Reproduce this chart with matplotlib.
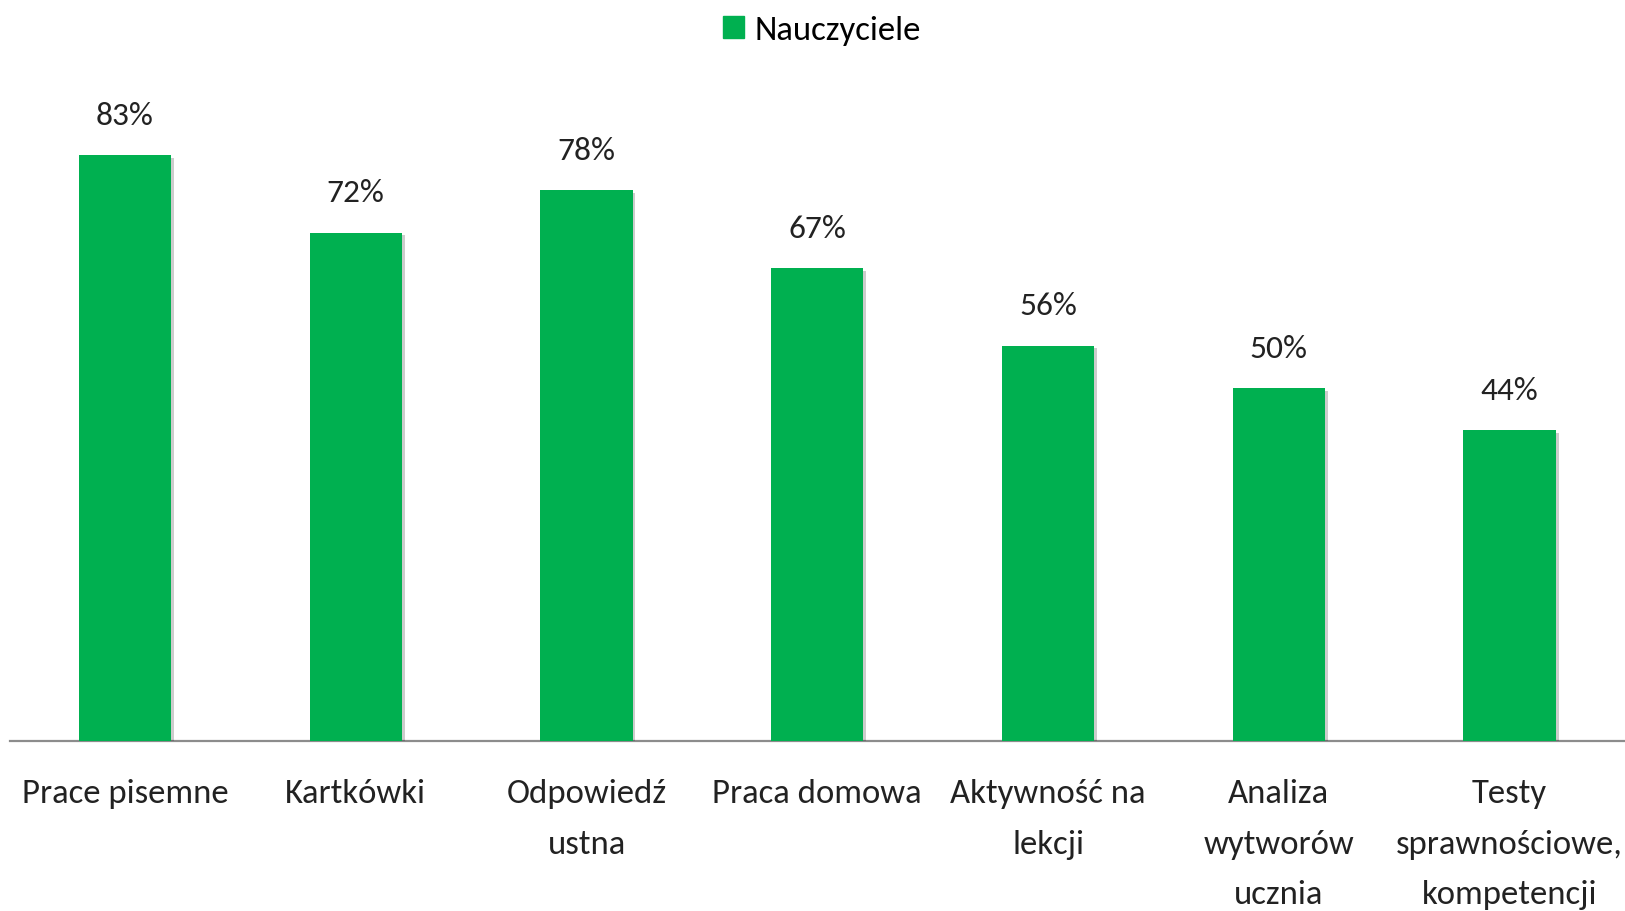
import matplotlib
matplotlib.use("Agg")
import matplotlib.pyplot as plt
import matplotlib.patheffects as pe
from matplotlib.patches import Rectangle

categories = ["Prace pisemne", "Kartkówki", "Odpowiedź\nustna", "Praca domowa",
              "Aktywność na\nlekcji", "Analiza\nwytworów\nucznia",
              "Testy\nsprawnościowe,\nkompetencji"]
values = [83, 72, 78, 67, 56, 50, 44]
series_name = "Nauczyciele"
green = "#00B050"

fam = ["Carlito", "Roboto Condensed", "Open Sans Condensed", "Liberation Sans Narrow", "Lato", "DejaVu Sans"]
plt.rcParams['font.family'] = fam

W, H = 1625, 912
fig = plt.figure(figsize=(W/100, H/100), dpi=100)
ax_left = 9.6 / W
ax_bottom = (H - 742) / H
ax_h = (90 * 7.06) / H
ax = fig.add_axes([ax_left, ax_bottom, 1 - ax_left, ax_h])

x = list(range(len(values)))
bars = ax.bar(x, values, width=0.4, color=green, zorder=3,
              path_effects=[pe.SimplePatchShadow(offset=(2, -2), shadow_rgbFace='#000000', alpha=0.2), pe.Normal()])
ax.set_xlim(-0.5, len(values) - 0.5)
ax.set_ylim(0, 90)

for xi, v in zip(x, values):
    ax.annotate(f"{v}%", (xi, v), xytext=(0, 19), textcoords='offset points',
                ha='center', va='bottom', fontsize=24, color='#222222')

ax.set_xticks(x)
ax.set_xticklabels(categories, fontsize=25, color='#222222', linespacing=1.84)
ax.tick_params(axis='x', length=0, pad=27)
ax.set_yticks([])
for s in ['top', 'right', 'left']:
    ax.spines[s].set_visible(False)
ax.spines['bottom'].set_color('#8c8c8c')
ax.spines['bottom'].set_linewidth(1.6)

handle = Rectangle((0, 0), 1, 1, color=green)
fig.legend([handle], [series_name], loc='center', bbox_to_anchor=(822/W, 1 - 31/H),
           frameon=False, fontsize=25, handlelength=0.6, handleheight=0.6,
           handletextpad=0.3)

fig.savefig("out.png", dpi=100, facecolor='white')
